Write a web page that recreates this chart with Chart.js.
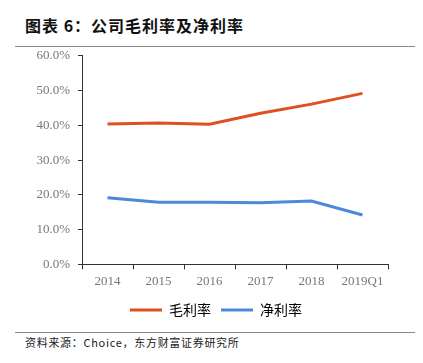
<!DOCTYPE html>
<html>
<head>
<meta charset="utf-8">
<script src="https://cdn.jsdelivr.net/npm/chart.js@4"></script>
<style>
  html, body { margin: 0; padding: 0; background: #fff; }
  body { width: 423px; height: 363px; position: relative; overflow: hidden; }
  .title { position: absolute; left: 25px; top: 13px; font: 700 16px "Noto Sans CJK SC", sans-serif; color: #111; letter-spacing: 1px; }
  .rule { position: absolute; left: 15px; width: 400px; height: 1px; background: #8a8a8a; }
  .source { position: absolute; left: 25px; top: 334px; font: 11px "Noto Sans CJK SC", sans-serif; color: #222; letter-spacing: 0.7px; }
  #wrap { position: absolute; left: 0; top: 40px; width: 423px; height: 287px; }
</style>
</head>
<body>
<div class="title">图表 6：公司毛利率及净利率</div>
<div class="rule" style="top:46px"></div>
<div id="wrap"><canvas id="chart"></canvas></div>
<div class="rule" style="top:332px"></div>
<div class="source">资料来源：Choice，东方财富证券研究所</div>
<script>
  // ── Data ────────────────────────────────────────────────────────────────
  const categories  = ['2014', '2015', '2016', '2017', '2018', '2019Q1'];
  const grossMargin = [40.4, 40.7, 40.3, 43.5, 46.1, 49.2];
  const netMargin   = [19.2, 17.9, 17.9, 17.7, 18.2, 14.2];

  const RED  = '#E04F1F';
  const BLUE = '#4A8AD8';
  const AXIS = '#333';
  const TICK_FONT = { family: "'Liberation Serif', serif", size: 13 };

  // nudge the legend a little right, as in the source image
  const legendShift = {
    id: 'legendShift',
    afterLayout(chart) {
      if (!chart.legend) return;
      chart.legend.left += 12;
      chart.legend.right += 12;
    }
  };

  new Chart(document.getElementById('chart'), {
    type: 'line',
    data: {
      labels: categories,
      datasets: [
        { label: '毛利率', data: grossMargin, borderColor: RED, backgroundColor: RED,
          borderWidth: 3, pointRadius: 0, tension: 0 },
        { label: '净利率', data: netMargin, borderColor: BLUE, backgroundColor: BLUE,
          borderWidth: 3, pointRadius: 0, tension: 0 }
      ]
    },
    plugins: [legendShift],
    options: {
      responsive: true,
      maintainAspectRatio: false,
      animation: false,
      layout: { padding: { left: 20, right: 35, top: 6, bottom: 0 } },
      scales: {
        x: {
          offset: true,
          grid: { display: true, drawOnChartArea: false, offset: true, tickLength: 5, color: AXIS },
          border: { color: AXIS, width: 1 },
          ticks: { color: '#777', font: TICK_FONT, padding: 4, maxRotation: 0 }
        },
        y: {
          min: 0, max: 60,
          afterFit: s => { s.width = 62; },
          grid: { display: true, drawOnChartArea: false, tickLength: 4, color: AXIS },
          border: { color: AXIS, width: 1 },
          ticks: { stepSize: 10, color: '#777', font: TICK_FONT, padding: 8,
                   callback: v => v.toFixed(1) + '%' }
        }
      },
      plugins: {
        legend: {
          display: true,
          position: 'bottom',
          labels: {
            color: '#666',
            font: { family: "'Noto Sans CJK SC', sans-serif", size: 14 },
            boxWidth: 32, boxHeight: 3, padding: 10,
            generateLabels: chart => chart.data.datasets.map((ds, i) => ({
              text: ds.label, fillStyle: ds.borderColor, strokeStyle: ds.borderColor,
              lineWidth: 0, datasetIndex: i, hidden: false
            }))
          }
        },
        tooltip: { enabled: false }
      }
    }
  });
</script>
</body>
</html>
